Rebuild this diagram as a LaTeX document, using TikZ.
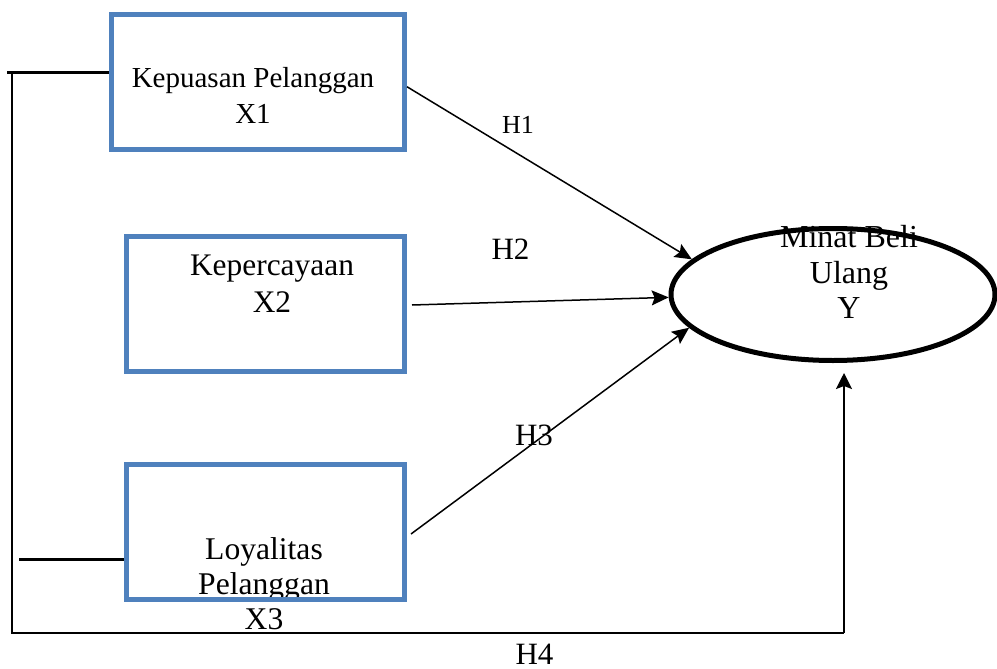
\documentclass[tikz,border=0pt]{standalone}
\usepackage{fontspec}
\setmainfont{Liberation Serif}
\usepackage{tikz}
\usetikzlibrary{positioning, arrows.meta, shapes.geometric}
\definecolor{boxblue}{RGB}{79,129,189}

\begin{document}
\begin{tikzpicture}[x=0.5pt, y=-0.5pt,
  box/.style={draw=boxblue, line width=2.5pt, minimum width=#1, minimum height=67.5pt, inner sep=0pt},
  box/.default=139.25pt,
  txt/.style={align=center, inner sep=0pt, font=\fontsize{15.8}{18}\selectfont},
  hyp/.style={inner sep=0pt, font=\fontsize{15.5}{18}\selectfont},
  arr/.style={-{Stealth[length=8.5pt, width=7.5pt, inset=1.5pt]}, line width=0.75pt},
  bus/.style={line width=1pt}]
  \useasboundingbox (0,0) rectangle (997,669);
  % texts first, the borders lie over them
  \node[txt, font=\fontsize{14.5}{18}\selectfont] (x1txt) at (253,95.8) {Kepuasan Pelanggan\\X1};
  \node[txt, font=\fontsize{15.7}{18.5}\selectfont] (x2txt) at (272,283.6) {Kepercayaan\\X2};
  \node[txt, font=\fontsize{15.8}{17.5}\selectfont] (x3txt) at (264,583.8) {Loyalitas\\Pelanggan\\X3};
  \node[txt, font=\fontsize{16}{17.75}\selectfont] (ytxt) at (849,272.3) {Minat Beli\\Ulang\\Y};
  % variables
  \node[box=146.5pt, minimum height=67.25pt] (x1) at (258,81.75) {};
  \node[box] (x2) at (265.25,304) {};
  \node[box] (x3) at (265.25,532) {};
  \node[draw, ellipse, line width=2.5pt, minimum width=162pt, minimum height=66pt, inner sep=0pt] (y) at (833,294.5) {};
  % hypotheses
  \draw[arr] ([yshift=-2.5pt]x1.east) -- (y.166);
  \draw[arr] ([xshift=2.5pt, yshift=-0.5pt]x2.east) -- (y.181);
  \draw[arr] ([xshift=2pt, yshift=-0.5pt]x3.east |- 0,533) -- (y.193);
  \node[hyp, font=\fontsize{13}{16}\selectfont] (h1) at (518,124.5) {H1};
  \node[hyp] (h2) at (510.5,249) {H2};
  \node[hyp] (h3) at (534,435) {H3};
  % simultaneous path
  \coordinate (busTop) at (7,72);
  \coordinate (busBot) at (12,633);
  \coordinate (stub) at (19,559);
  \coordinate (h4end) at (844,373);
  \draw[line width=1.5pt] (busTop) -- (x1.west |- busTop);
  \draw[line width=1.5pt] (stub) -- (x3.west |- stub);
  \draw[bus] (busTop -| busBot) -- (busBot) -- (busBot -| h4end);
  \draw[arr, line width=1pt, -{Stealth[length=8pt, width=8pt, inset=1.5pt]}] (busBot -| h4end) -- (h4end);
  \node[hyp] (h4) at (534.5,654) {H4};
\end{tikzpicture}
\end{document}
